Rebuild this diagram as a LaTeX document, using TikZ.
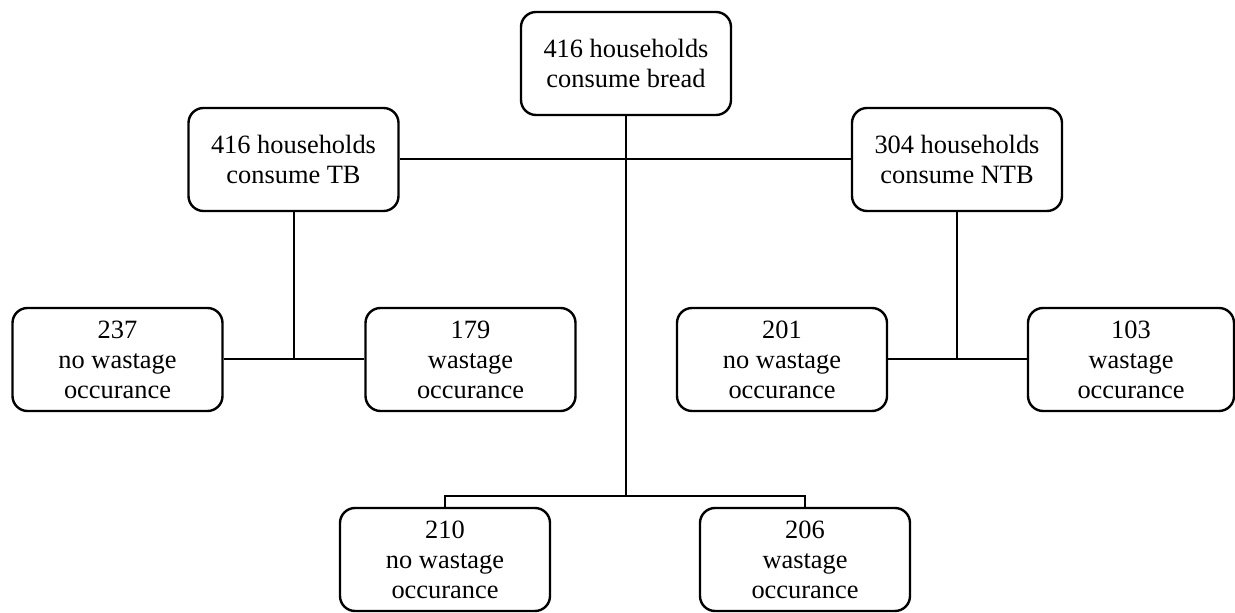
\documentclass[tikz,border=0pt]{standalone}
\usepackage{fontspec}
\setmainfont{Liberation Serif}
\usepackage{tikz}

\tikzset{
  hbox/.style={draw, line width=1.2pt, rounded corners=7.5pt, align=center,
    minimum width=105pt, minimum height=51.5pt, inner sep=2pt,
    font=\fontsize{13.2}{15}\selectfont},
  link/.style={line width=1pt}
}

\begin{document}
\begin{tikzpicture}[x=0.5pt, y=-0.5pt]
            \useasboundingbox (0,0) rectangle (1235,613);

            \node[hbox] (bread) at (626,63.5) {416 households\\consume bread};
            \node[hbox] (tb) at (293.5,159.5) {416 households\\consume TB};
            \node[hbox] (ntb) at (957,159.5) {304 households\\consume NTB};

            \node[hbox] (tbno) at (117.5,359.5) {237\\no wastage\\occurance};
            \node[hbox] (tbyes) at (470.5,359.5) {179\\wastage\\occurance};
            \node[hbox] (ntbno) at (782,359.5) {201\\no wastage\\occurance};
            \node[hbox, minimum width=103pt] (ntbyes) at (1131,359.5) {103\\wastage\\occurance};

            \node[hbox] (allno) at (445,559.5) {210\\no wastage\\occurance};
            \node[hbox] (allyes) at (805,559.5) {206\\wastage\\occurance};

            \coordinate (split) at (626,496);

            \draw[link] (tb.east) -- (ntb.west);
            \draw[link] (bread.south) -- (split);
            \draw[link] (allno.north) |- (split) -| (allyes.north);

            \draw[link] (tbno.east) -- (tbyes.west);
            \draw[link] (tb.south) -- (tb.south |- tbno.east);

            \draw[link] (ntbno.east) -- (ntbyes.west);
            \draw[link] (ntb.south) -- (ntb.south |- ntbno.east);
        \end{tikzpicture}
\end{document}
